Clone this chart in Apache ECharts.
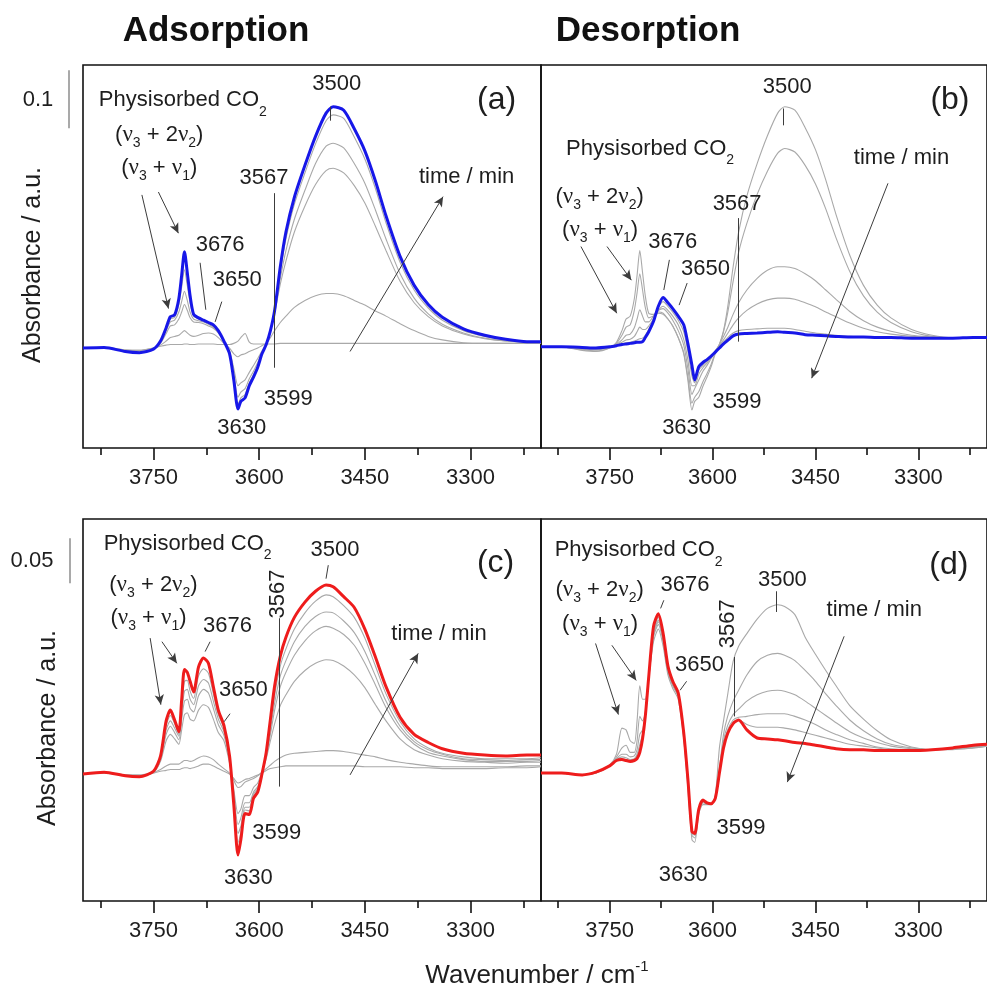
<!DOCTYPE html>
<html>
<head>
<meta charset="utf-8">
<title>In situ IR spectra: CO2 adsorption and desorption</title>
<script src="https://cdn.jsdelivr.net/npm/echarts@6/dist/echarts.min.js"></script>
<style>
  html, body { margin: 0; padding: 0; background: #ffffff; }
  #chart { width: 987px; height: 996px; }
</style>
</head>
<body>
<div id="chart"></div>
<script>
// Shared wavenumber grid (cm-1), high to low
const wavenumbers = [
  3850, 3820, 3790, 3770, 3750, 3740, 3732, 3726, 3720, 3714,
  3710, 3706, 3702, 3698, 3693, 3686, 3679, 3672, 3665, 3658,
  3650, 3642, 3636, 3630, 3626, 3620, 3614, 3608, 3602, 3596,
  3590, 3584, 3578, 3570, 3562, 3550, 3535, 3520, 3505, 3495,
  3480, 3465, 3450, 3435, 3420, 3400, 3380, 3360, 3340, 3310,
  3280, 3250, 3220, 3200
];
const majorTicks = [3750, 3600, 3450, 3300];
const minorTicks = [3825, 3675, 3525, 3375, 3225];
const scaleBars = [0.1, 0.05];
const xRange = [3200, 3850];

// (a) adsorption, sample 1 — last spectrum and earlier spectra
const aFinal = [
  0, 0.001, -0.006, -0.008, -0.002, 0.012, 0.035, 0.054, 0.057, 0.085,
  0.125, 0.166, 0.13, 0.09, 0.058, 0.052, 0.048, 0.044, 0.04, 0.03,
  0.012, -0.01, -0.055, -0.105, -0.092, -0.086, -0.065, -0.05, -0.033, -0.01,
  0.006, 0.03, 0.065, 0.14, 0.2, 0.26, 0.315, 0.365, 0.405, 0.416,
  0.41, 0.378, 0.34, 0.288, 0.228, 0.158, 0.108, 0.075, 0.053, 0.033,
  0.022, 0.015, 0.011, 0.011
];
const aT1 = [
  0, 0.001, -0.003, -0.004, 0, 0.003, 0.005, 0.006, 0.006, 0.006,
  0.006, 0.007, 0.007, 0.006, 0.006, 0.007, 0.007, 0.007, 0.007, 0.006,
  0.006, 0.006, 0.008, 0.012, 0.018, 0.025, 0.01, 0.007, 0.007, 0.007,
  0.007, 0.007, 0.007, 0.008, 0.008, 0.008, 0.008, 0.008, 0.008, 0.008,
  0.008, 0.008, 0.008, 0.008, 0.008, 0.008, 0.008, 0.008, 0.008, 0.008,
  0.008, 0.008, 0.008, 0.008
];
const aT2 = [
  0, 0.001, -0.004, -0.004, 0, 0.005, 0.012, 0.018, 0.02, 0.022,
  0.026, 0.03, 0.026, 0.022, 0.02, 0.022, 0.025, 0.026, 0.024, 0.018,
  0.008, 0, -0.01, -0.015, -0.012, -0.01, -0.006, -0.003, 0, 0.004,
  0.008, 0.018, 0.03, 0.044, 0.055, 0.07, 0.082, 0.09, 0.094, 0.094,
  0.09, 0.082, 0.074, 0.064, 0.055, 0.042, 0.03, 0.02, 0.014, 0.009,
  0.008, 0.008, 0.008, 0.008
];
const aT3 = [
  0, 0.001, -0.005, -0.007, -0.002, 0.008, 0.025, 0.038, 0.04, 0.05,
  0.062, 0.075, 0.065, 0.052, 0.045, 0.044, 0.042, 0.038, 0.034, 0.026,
  0.012, -0.005, -0.035, -0.065, -0.06, -0.055, -0.042, -0.03, -0.018, -0.005,
  0.008, 0.03, 0.06, 0.11, 0.15, 0.2, 0.245, 0.282, 0.306, 0.31,
  0.302, 0.28, 0.25, 0.21, 0.168, 0.115, 0.078, 0.054, 0.038, 0.024,
  0.016, 0.012, 0.01, 0.01
];
const aT4 = [
  0, 0.001, -0.005, -0.007, -0.002, 0.01, 0.03, 0.045, 0.048, 0.062,
  0.08, 0.098, 0.082, 0.062, 0.05, 0.047, 0.045, 0.041, 0.036, 0.028,
  0.012, -0.007, -0.045, -0.085, -0.076, -0.07, -0.053, -0.04, -0.025, -0.007,
  0.007, 0.03, 0.065, 0.12, 0.168, 0.222, 0.272, 0.318, 0.348, 0.353,
  0.345, 0.318, 0.284, 0.238, 0.188, 0.128, 0.086, 0.059, 0.041, 0.026,
  0.017, 0.012, 0.01, 0.01
];
const aT5 = [
  0, 0.001, -0.006, -0.008, -0.002, 0.011, 0.033, 0.05, 0.053, 0.075,
  0.105, 0.135, 0.108, 0.078, 0.055, 0.05, 0.047, 0.043, 0.038, 0.029,
  0.012, -0.008, -0.05, -0.098, -0.086, -0.08, -0.06, -0.046, -0.03, -0.009,
  0.006, 0.03, 0.068, 0.132, 0.188, 0.248, 0.302, 0.352, 0.392, 0.402,
  0.396, 0.364, 0.326, 0.275, 0.216, 0.148, 0.1, 0.069, 0.048, 0.03,
  0.02, 0.014, 0.011, 0.011
];

// (b) desorption, sample 1
const bFinal = [
  0.002, 0.002, 0.001, 0, 0.002, 0.004, 0.006, 0.007, 0.008, 0.009,
  0.01, 0.01, 0.011, 0.018, 0.028, 0.046, 0.072, 0.087, 0.078, 0.068,
  0.055, 0.04, 0.008, -0.03, -0.055, -0.032, -0.025, -0.02, -0.014, -0.007,
  0, 0.007, 0.013, 0.021, 0.024, 0.025, 0.026, 0.027, 0.028, 0.027,
  0.026, 0.023, 0.022, 0.021, 0.02, 0.019, 0.019, 0.018, 0.018, 0.017,
  0.017, 0.017, 0.018, 0.018
];
const bT1 = [
  0.002, 0.002, -0.004, -0.006, 0, 0.01, 0.03, 0.05, 0.055, 0.085,
  0.125, 0.168, 0.13, 0.09, 0.06, 0.058, 0.062, 0.06, 0.05, 0.038,
  0.018, -0.01, -0.055, -0.107, -0.092, -0.085, -0.066, -0.05, -0.032, -0.01,
  0.006, 0.03, 0.07, 0.14, 0.2, 0.262, 0.318, 0.366, 0.405, 0.416,
  0.41, 0.38, 0.342, 0.29, 0.23, 0.16, 0.108, 0.074, 0.052, 0.032,
  0.022, 0.018, 0.018, 0.018
];
const bT2 = [
  0.002, 0.002, -0.003, -0.005, 0, 0.008, 0.022, 0.036, 0.04, 0.065,
  0.095, 0.128, 0.1, 0.07, 0.052, 0.055, 0.06, 0.058, 0.05, 0.038,
  0.018, -0.008, -0.05, -0.095, -0.085, -0.075, -0.058, -0.044, -0.028, -0.008,
  0.006, 0.028, 0.06, 0.115, 0.165, 0.215, 0.265, 0.305, 0.336, 0.344,
  0.338, 0.315, 0.283, 0.24, 0.19, 0.132, 0.09, 0.062, 0.044, 0.028,
  0.02, 0.017, 0.018, 0.018
];
const bT3 = [
  0.002, 0.002, -0.002, -0.003, 0.001, 0.006, 0.014, 0.022, 0.024, 0.035,
  0.05, 0.066, 0.055, 0.045, 0.045, 0.055, 0.065, 0.068, 0.06, 0.048,
  0.03, 0.005, -0.035, -0.08, -0.07, -0.055, -0.04, -0.03, -0.018, -0.005,
  0.006, 0.02, 0.035, 0.058, 0.078, 0.1, 0.12, 0.134, 0.14, 0.14,
  0.137, 0.128, 0.116, 0.1, 0.084, 0.063, 0.047, 0.036, 0.029, 0.022,
  0.019, 0.017, 0.018, 0.018
];
const bT4 = [
  0.002, 0.002, -0.001, -0.002, 0.001, 0.005, 0.01, 0.014, 0.015, 0.02,
  0.028, 0.036, 0.032, 0.032, 0.038, 0.05, 0.065, 0.072, 0.065, 0.055,
  0.04, 0.015, -0.02, -0.065, -0.065, -0.045, -0.034, -0.026, -0.016, -0.005,
  0.004, 0.014, 0.025, 0.04, 0.052, 0.065, 0.076, 0.083, 0.086, 0.086,
  0.084, 0.078, 0.071, 0.062, 0.054, 0.043, 0.034, 0.028, 0.024, 0.02,
  0.018, 0.017, 0.018, 0.018
];
const bT5 = [
  0.002, 0.002, 0, -0.001, 0.002, 0.004, 0.007, 0.009, 0.01, 0.012,
  0.014, 0.016, 0.017, 0.022, 0.032, 0.05, 0.07, 0.08, 0.072, 0.062,
  0.048, 0.028, -0.005, -0.048, -0.06, -0.038, -0.03, -0.023, -0.015, -0.006,
  0.002, 0.01, 0.018, 0.026, 0.03, 0.032, 0.033, 0.034, 0.034, 0.034,
  0.032, 0.029, 0.026, 0.024, 0.022, 0.02, 0.019, 0.018, 0.018, 0.017,
  0.017, 0.017, 0.018, 0.018
];

// (c) adsorption, sample 2
const cFinal = [
  0, 0.002, -0.002, -0.003, 0.003, 0.02, 0.059, 0.071, 0.06, 0.047,
  0.082, 0.116, 0.113, 0.103, 0.091, 0.119, 0.129, 0.123, 0.097, 0.071,
  0.054, 0.02, -0.034, -0.09, -0.073, -0.044, -0.045, -0.027, -0.02, 0,
  0.024, 0.061, 0.098, 0.131, 0.152, 0.174, 0.191, 0.203, 0.21, 0.208,
  0.197, 0.185, 0.161, 0.13, 0.097, 0.063, 0.044, 0.035, 0.028, 0.023,
  0.021, 0.02, 0.021, 0.021
];
const cT1 = [
  0, 0.001, -0.001, -0.001, 0.001, 0.003, 0.004, 0.005, 0.005, 0.005,
  0.006, 0.007, 0.007, 0.006, 0.007, 0.009, 0.011, 0.011, 0.009, 0.006,
  0.003, 0, -0.005, -0.01, -0.009, -0.006, -0.005, -0.003, -0.001, 0.001,
  0.004, 0.006, 0.007, 0.008, 0.009, 0.009, 0.009, 0.009, 0.009, 0.009,
  0.009, 0.009, 0.008, 0.008, 0.008, 0.008, 0.007, 0.007, 0.006, 0.006,
  0.006, 0.007, 0.007, 0.008
];
const cT2 = [
  0, 0.002, -0.001, -0.002, 0.002, 0.005, 0.009, 0.011, 0.011, 0.011,
  0.013, 0.015, 0.015, 0.014, 0.015, 0.018, 0.02, 0.019, 0.016, 0.011,
  0.006, 0.001, -0.007, -0.015, -0.014, -0.009, -0.007, -0.005, -0.002, 0.002,
  0.006, 0.01, 0.014, 0.018, 0.021, 0.023, 0.024, 0.025, 0.026, 0.026,
  0.025, 0.023, 0.021, 0.019, 0.016, 0.013, 0.011, 0.009, 0.008, 0.008,
  0.008, 0.008, 0.009, 0.009
];
const cT3 = [
  0, 0.002, -0.002, -0.002, 0.002, 0.014, 0.037, 0.044, 0.039, 0.033,
  0.049, 0.066, 0.068, 0.061, 0.059, 0.071, 0.077, 0.074, 0.061, 0.046,
  0.037, 0.012, -0.017, -0.044, -0.039, -0.024, -0.024, -0.015, -0.01, 0.002,
  0.017, 0.037, 0.056, 0.076, 0.088, 0.103, 0.115, 0.123, 0.127, 0.126,
  0.12, 0.11, 0.096, 0.077, 0.059, 0.039, 0.027, 0.021, 0.017, 0.014,
  0.013, 0.012, 0.013, 0.013
];
const cT4 = [
  0, 0.002, -0.002, -0.002, 0.002, 0.016, 0.044, 0.053, 0.046, 0.038,
  0.06, 0.081, 0.083, 0.073, 0.069, 0.087, 0.094, 0.09, 0.073, 0.055,
  0.043, 0.015, -0.022, -0.056, -0.049, -0.032, -0.032, -0.02, -0.014, 0.001,
  0.02, 0.044, 0.071, 0.097, 0.113, 0.132, 0.148, 0.159, 0.164, 0.162,
  0.155, 0.143, 0.123, 0.099, 0.074, 0.049, 0.033, 0.024, 0.02, 0.016,
  0.014, 0.014, 0.014, 0.015
];
const cT5 = [
  0, 0.002, -0.002, -0.003, 0.002, 0.017, 0.049, 0.059, 0.051, 0.042,
  0.067, 0.092, 0.094, 0.083, 0.077, 0.098, 0.105, 0.101, 0.081, 0.061,
  0.047, 0.017, -0.027, -0.066, -0.058, -0.037, -0.037, -0.022, -0.016, 0.001,
  0.022, 0.049, 0.079, 0.109, 0.126, 0.147, 0.164, 0.175, 0.18, 0.179,
  0.17, 0.157, 0.136, 0.109, 0.081, 0.053, 0.036, 0.027, 0.022, 0.017,
  0.016, 0.015, 0.016, 0.016
];
const cT6 = [
  0, 0.002, -0.002, -0.003, 0.003, 0.019, 0.054, 0.065, 0.056, 0.044,
  0.074, 0.103, 0.104, 0.092, 0.084, 0.109, 0.117, 0.112, 0.089, 0.066,
  0.051, 0.018, -0.03, -0.076, -0.065, -0.04, -0.041, -0.024, -0.018, 0,
  0.023, 0.055, 0.088, 0.12, 0.139, 0.161, 0.179, 0.192, 0.199, 0.197,
  0.187, 0.174, 0.151, 0.12, 0.089, 0.058, 0.039, 0.029, 0.023, 0.019,
  0.017, 0.017, 0.017, 0.018
];

// (d) desorption, sample 2
const dFinal = [
  0.001, 0.001, -0.001, 0.002, 0.009, 0.015, 0.016, 0.015, 0.014, 0.015,
  0.017, 0.024, 0.039, 0.064, 0.108, 0.164, 0.178, 0.156, 0.12, 0.103,
  0.09, 0.046, -0.005, -0.064, -0.066, -0.039, -0.029, -0.032, -0.033, -0.027,
  0.001, 0.029, 0.045, 0.056, 0.06, 0.049, 0.04, 0.039, 0.038, 0.037,
  0.035, 0.034, 0.032, 0.03, 0.028, 0.027, 0.027, 0.026, 0.026, 0.026,
  0.027, 0.029, 0.032, 0.033
];
const dT1 = [
  0.001, 0.001, -0.001, 0.001, 0.01, 0.022, 0.051, 0.049, 0.037, 0.034,
  0.059, 0.098, 0.083, 0.083, 0.108, 0.147, 0.161, 0.142, 0.11, 0.095,
  0.083, 0.039, -0.015, -0.073, -0.076, -0.044, -0.034, -0.034, -0.034, -0.024,
  0.029, 0.059, 0.088, 0.125, 0.142, 0.156, 0.172, 0.184, 0.188, 0.186,
  0.177, 0.152, 0.133, 0.115, 0.098, 0.076, 0.061, 0.048, 0.038, 0.03,
  0.027, 0.027, 0.029, 0.031
];
const dT2 = [
  0.001, 0.001, -0.001, 0.001, 0.009, 0.019, 0.029, 0.032, 0.024, 0.024,
  0.037, 0.064, 0.059, 0.068, 0.105, 0.152, 0.166, 0.147, 0.113, 0.098,
  0.086, 0.042, -0.01, -0.068, -0.071, -0.042, -0.032, -0.033, -0.033, -0.025,
  0.006, 0.044, 0.064, 0.081, 0.093, 0.11, 0.125, 0.132, 0.134, 0.132,
  0.126, 0.115, 0.103, 0.089, 0.076, 0.06, 0.048, 0.039, 0.033, 0.029,
  0.027, 0.028, 0.029, 0.031
];
const dT3 = [
  0.001, 0.001, -0.001, 0.001, 0.009, 0.017, 0.022, 0.022, 0.019, 0.02,
  0.027, 0.044, 0.049, 0.066, 0.105, 0.154, 0.169, 0.149, 0.115, 0.099,
  0.087, 0.043, -0.007, -0.066, -0.068, -0.039, -0.031, -0.032, -0.033, -0.026,
  0.004, 0.037, 0.054, 0.066, 0.072, 0.081, 0.088, 0.092, 0.093, 0.092,
  0.088, 0.081, 0.073, 0.065, 0.057, 0.047, 0.04, 0.035, 0.031, 0.028,
  0.027, 0.028, 0.03, 0.032
];
const dT4 = [
  0.001, 0.001, -0.001, 0.002, 0.009, 0.016, 0.019, 0.018, 0.016, 0.017,
  0.022, 0.033, 0.044, 0.065, 0.107, 0.156, 0.171, 0.152, 0.116, 0.1,
  0.088, 0.044, -0.006, -0.064, -0.066, -0.038, -0.03, -0.032, -0.033, -0.026,
  0.002, 0.033, 0.049, 0.06, 0.063, 0.064, 0.066, 0.067, 0.067, 0.067,
  0.064, 0.06, 0.055, 0.049, 0.044, 0.038, 0.034, 0.03, 0.028, 0.027,
  0.027, 0.028, 0.03, 0.031
];
const dT5 = [
  0.001, 0.001, -0.001, 0.002, 0.009, 0.015, 0.017, 0.016, 0.015, 0.016,
  0.02, 0.028, 0.042, 0.064, 0.108, 0.159, 0.174, 0.153, 0.117, 0.101,
  0.089, 0.045, -0.005, -0.063, -0.065, -0.038, -0.03, -0.032, -0.033, -0.027,
  0.001, 0.031, 0.046, 0.057, 0.06, 0.055, 0.052, 0.052, 0.052, 0.051,
  0.049, 0.046, 0.043, 0.04, 0.037, 0.033, 0.031, 0.029, 0.027, 0.026,
  0.027, 0.028, 0.03, 0.032
];

// ---------------------------------------------------------------
const FONT = '"Liberation Sans", Arial, Helvetica, sans-serif';
const SERIF = '"Liberation Serif", "Times New Roman", serif';
const TEXT = '#1e1e1e';
const BLUE = '#1717e8';
const RED = '#ee1c1c';
const GREY = '#a9a9a9';

const RICH = {
  s: { fontSize: 14, lineHeight: 14, padding: [24, 0, 0, 0], fontFamily: FONT, color: TEXT },
  g: { fontSize: 23, fontFamily: SERIF, color: TEXT },
  t: { fontSize: 14, lineHeight: 14, padding: [16, 0, 0, 0], fontFamily: FONT, color: TEXT }
};
const PHYS = 'Physisorbed CO{s|2}';
const COMB1 = '({g|ν}{t|3} + 2{g|ν}{t|2})';
const COMB2 = '({g|ν}{t|3} + {g|ν}{t|1})';

const pair = v => wavenumbers.map((w, i) => [w, v[i]]);

const panels = [
  {
    final: aFinal, earlier: [aT1, aT2, aT3, aT4, aT5], color: BLUE,
    texts: [
      [PHYS, 3708.3, 0.428], [COMB1, 3741.8, 0.367], [COMB2, 3741.8, 0.31],
      ['3676', 3655.4, 0.178], ['3650', 3631, 0.117], ['3567', 3593, 0.293],
      ['3599', 3558.6, -0.087], ['3630', 3624.7, -0.138], ['3500', 3490, 0.456],
      ['time / min', 3305.6, 0.295], ['(a)', 3263, 0.428, 32]
    ],
    leaders: [
      [3683.8, 0.147, 3675.7, 0.066], [3653, 0.08, 3662.5, 0.045],
      [3578.9, 0.267, 3578.9, -0.034], [3499.5, 0.416, 3499.5, 0.392]
    ],
    arrows: [
      [3766.4, 0.264, 3728.7, 0.068], [3743, 0.269, 3714.6, 0.198],
      [3471, -0.006, 3339, 0.261]
    ]
  },
  {
    final: bFinal, earlier: [bT1, bT2, bT3, bT4, bT5], color: BLUE,
    texts: [
      [PHYS, 3691, 0.344], [COMB1, 3764.5, 0.261], [COMB2, 3763.8, 0.203],
      ['3676', 3658, 0.183], ['3650', 3610.4, 0.137], ['3567', 3564.2, 0.249],
      ['3599', 3564.5, -0.093], ['3630', 3637.8, -0.138], ['3500', 3491, 0.451],
      ['time / min', 3324.6, 0.327], ['(b)', 3254, 0.428, 32]
    ],
    leaders: [
      [3662.9, 0.152, 3671, 0.1], [3637, 0.112, 3648.7, 0.074],
      [3563, 0.224, 3563, 0.011], [3497.2, 0.413, 3497.2, 0.384]
    ],
    arrows: [
      [3791.8, 0.175, 3739.6, 0.06], [3753.8, 0.175, 3718.3, 0.117],
      [3344.3, 0.284, 3455.5, -0.052]
    ]
  },
  {
    final: cFinal, earlier: [cT1, cT2, cT3, cT4, cT5, cT6], color: RED,
    texts: [
      [PHYS, 3701.5, 0.256], [COMB1, 3750, 0.21], [COMB2, 3757, 0.173],
      ['3676', 3644.8, 0.164], ['3650', 3622.4, 0.093], ['3567', 3572.8, 0.2, 22, 90],
      ['3599', 3575, -0.066], ['3630', 3615.3, -0.116], ['3500', 3492.4, 0.249],
      ['time / min', 3344.7, 0.156], ['(c)', 3264.4, 0.234, 32]
    ],
    leaders: [
      [3669.6, 0.147, 3676.7, 0.136], [3641.3, 0.067, 3649.8, 0.058],
      [3571.4, 0.173, 3571.4, -0.014], [3501.9, 0.232, 3505.1, 0.217]
    ],
    arrows: [
      [3754.7, 0.151, 3739.5, 0.077], [3738, 0.147, 3716.8, 0.123],
      [3471, -0.001, 3374.3, 0.134]
    ]
  },
  {
    final: dFinal, earlier: [dT1, dT2, dT3, dT4, dT5], color: RED,
    texts: [
      [PHYS, 3707.7, 0.249], [COMB1, 3764.5, 0.204], [COMB2, 3763.8, 0.167],
      ['3676', 3640.2, 0.21], ['3650', 3619, 0.121], ['3567', 3577.4, 0.167, 22, 90],
      ['3599', 3558.5, -0.06], ['3630', 3642.6, -0.112], ['3500', 3498.2, 0.216],
      ['time / min', 3364.3, 0.182], ['(d)', 3255.5, 0.232, 32]
    ],
    leaders: [
      [3671, 0.193, 3675.7, 0.184], [3637.8, 0.103, 3647.3, 0.093],
      [3568.2, 0.13, 3568.2, 0.064], [3506.7, 0.203, 3506.7, 0.18]
    ],
    arrows: [
      [3770.5, 0.145, 3737.2, 0.066], [3746.7, 0.143, 3711.2, 0.104],
      [3408.2, 0.153, 3491, -0.009]
    ]
  }
];

// Panel frames: top row uses 0.1 a.u. per 58 px, bottom row 0.05 a.u. per 45 px
const gridBoxes = [
  { left: 83, top: 65, width: 458, height: 383 },
  { left: 541, top: 65, width: 458, height: 383 },
  { left: 83, top: 519, width: 458, height: 382 },
  { left: 541, top: 519, width: 458, height: 382 }
];
const yRanges = [[-0.1724, 0.488], [-0.1724, 0.488], [-0.1411, 0.2833], [-0.1411, 0.2833]];

const grid = gridBoxes.map(g => Object.assign({
  show: true, borderColor: '#111', borderWidth: 1.6, backgroundColor: 'transparent'
}, g));

const xAxis = [];
const yAxis = [];
gridBoxes.forEach((g, i) => {
  xAxis.push({
    type: 'value', gridIndex: i, min: xRange[0], max: xRange[1], inverse: true, position: 'bottom',
    axisLine: { show: false, onZero: false }, splitLine: { show: false },
    axisTick: { show: true, customValues: majorTicks, length: 12, lineStyle: { color: '#111', width: 1.6 } },
    axisLabel: {
      show: true, customValues: majorTicks, margin: 19, fontSize: 22, color: TEXT, fontFamily: FONT,
      formatter: v => String(v)
    }
  });
  xAxis.push({
    type: 'value', gridIndex: i, min: xRange[0], max: xRange[1], inverse: true, position: 'bottom',
    axisLine: { show: false, onZero: false }, splitLine: { show: false }, axisLabel: { show: false },
    axisTick: { show: true, customValues: minorTicks, length: 7, lineStyle: { color: '#111', width: 1.6 } }
  });
  yAxis.push({ type: 'value', gridIndex: i, min: yRanges[i][0], max: yRanges[i][1], show: false });
});

const series = [];
panels.forEach((p, i) => {
  p.earlier.forEach(v => {
    series.push({
      type: 'line', xAxisIndex: 2 * i, yAxisIndex: i, data: pair(v),
      showSymbol: false, silent: true, smooth: 0.25,
      lineStyle: { color: GREY, width: 1.1 }, z: 2
    });
  });
  const lineData = [];
  p.leaders.forEach(l => lineData.push([{ coord: [l[0], l[1]] }, { coord: [l[2], l[3]] }]));
  p.arrows.forEach(l => lineData.push([
    { coord: [l[0], l[1]] },
    { coord: [l[2], l[3]], symbol: 'arrow', symbolSize: [7, 10] }
  ]));
  series.push({
    type: 'line', xAxisIndex: 2 * i, yAxisIndex: i, data: pair(p.final),
    showSymbol: false, silent: true, smooth: 0.25,
    lineStyle: { color: p.color, width: 3 }, z: 3,
    markLine: {
      silent: true, animation: false, symbol: ['none', 'none'],
      label: { show: false }, emphasis: { disabled: true },
      lineStyle: { color: '#3c3c3c', width: 1, type: 'solid' },
      data: lineData
    },
    markPoint: {
      silent: true, animation: false, symbol: 'circle', symbolSize: 1,
      itemStyle: { color: 'rgba(0,0,0,0)' },
      label: { show: true, position: 'inside', color: TEXT, fontSize: 22, fontFamily: FONT, rich: RICH },
      data: p.texts.map(t => ({
        coord: [t[1], t[2]], value: 0,
        label: { formatter: t[0], fontSize: t[3] || 22, rotate: t[4] || 0 }
      }))
    }
  });
});

const chart = echarts.init(document.getElementById('chart'), null, { renderer: 'canvas' });
chart.setOption({
  animation: false,
  backgroundColor: '#ffffff',
  textStyle: { fontFamily: FONT },
  grid, xAxis, yAxis, series
});

// Scale bars sit left of each row, drawn against that row's absorbance scale
const barBase = [0.379, 0.212];
const barRows = [0, 2];
const barX = [69, 70];
const barLabelPos = [[38, 100], [32, 561]];
const graphics = [];
barRows.forEach((yi, k) => {
  const y0 = chart.convertToPixel({ yAxisIndex: yi }, barBase[k]);
  const y1 = chart.convertToPixel({ yAxisIndex: yi }, barBase[k] + scaleBars[k]);
  graphics.push({
    type: 'line', silent: true,
    shape: { x1: barX[k], y1: y0, x2: barX[k], y2: y1 },
    style: { stroke: '#8c8c8c', lineWidth: 1.5 }
  });
  graphics.push({
    type: 'text', silent: true, x: barLabelPos[k][0], y: barLabelPos[k][1],
    style: { text: String(scaleBars[k]), fontSize: 22, fontFamily: FONT, fill: TEXT, align: 'center', verticalAlign: 'middle' }
  });
});
[['Adsorption', 216, 31], ['Desorption', 648, 31]].forEach(t => graphics.push({
  type: 'text', silent: true, x: t[1], y: t[2],
  style: { text: t[0], fontSize: 35, fontWeight: 'bold', fontFamily: FONT, fill: '#111', align: 'center', verticalAlign: 'middle' }
}));
[[33, 265], [48, 728]].forEach(p => graphics.push({
  type: 'text', silent: true, x: p[0], y: p[1], rotation: Math.PI / 2,
  style: { text: 'Absorbance / a.u.', fontSize: 25, fontFamily: FONT, fill: TEXT, align: 'center', verticalAlign: 'middle' }
}));
graphics.push({
  type: 'text', silent: true, x: 537, y: 976,
  style: {
    text: 'Wavenumber / cm{sup|-1}', fontSize: 26, fontFamily: FONT, fill: TEXT,
    align: 'center', verticalAlign: 'middle',
    rich: { sup: { fontSize: 15, fontFamily: FONT, fill: TEXT, color: TEXT, padding: [0, 0, 18, 0] } }
  }
});
chart.setOption({ graphic: { elements: graphics } });
</script>
</body>
</html>
